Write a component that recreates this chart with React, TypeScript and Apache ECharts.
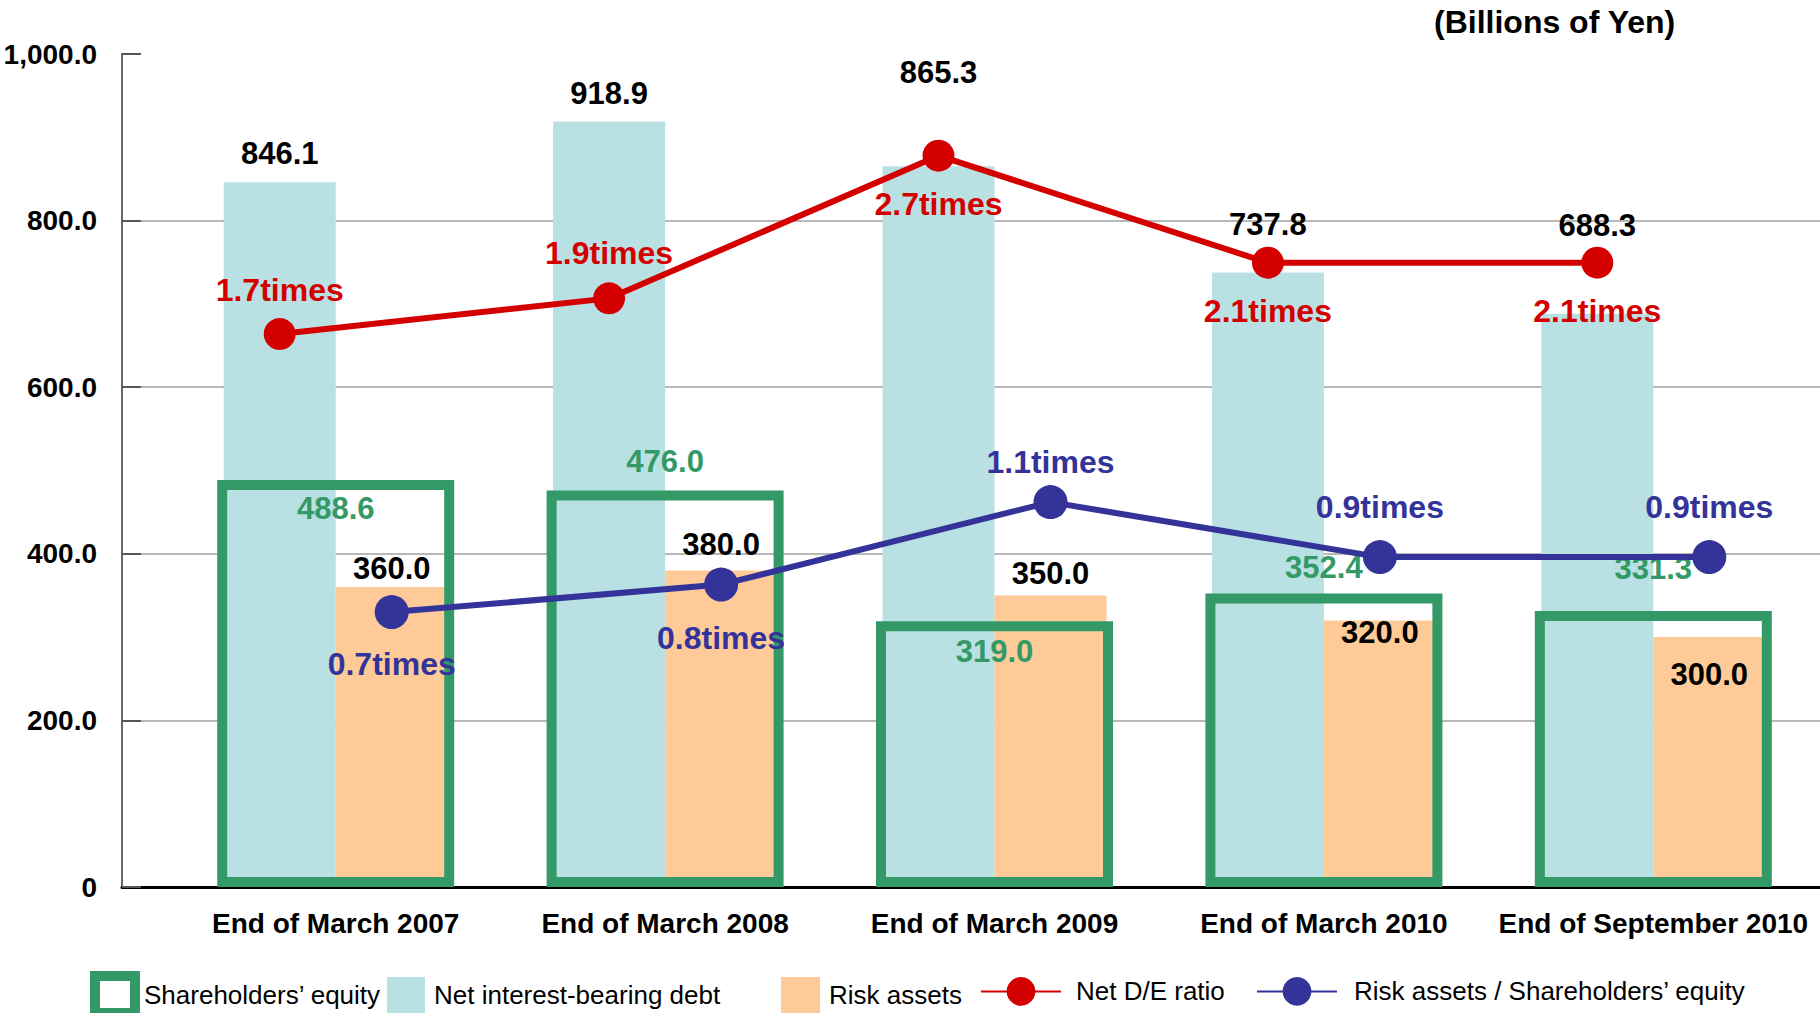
import { useEffect, useRef } from "react";
import * as echarts from "echarts";

// ---- data (billions of yen / times) ----
const categories = [
  "End of March 2007",
  "End of March 2008",
  "End of March 2009",
  "End of March 2010",
  "End of September 2010",
];
const netInterestBearingDebt = [846.1, 918.9, 865.3, 737.8, 688.3];
const riskAssets = [360.0, 380.0, 350.0, 320.0, 300.0];
const shareholdersEquity = [488.6, 476.0, 319.0, 352.4, 331.3];
const netDERatio = [1.7, 1.9, 2.7, 2.1, 2.1];
const riskToEquityRatio = [0.7, 0.8, 1.1, 0.9, 0.9];
const yTickValues = [0, 200, 400, 600, 800, 1000];

// ---- label placement tweaks (px), so the value tags clear the ratio lines ----
const debtLabelShift = [0, 0, -65, -19, -60];
const riskLabelShift = [0, -7, -3, 31, 56];
const equityLabelShift = [57, 0, 59, 3, -14];
const deLabelSide = ["top", "top", "bottom", "bottom", "bottom"];
const deLabelGap = [12, 13, 16, 16, 16];
const rrLabelSide = ["bottom", "bottom", "top", "top", "top"];
const rrLabelGap = [19, 20, 7, 17, 17];

const NAMES = {
  equity: "Shareholders\u2019 equity",
  debt: "Net interest-bearing debt",
  risk: "Risk assets",
  de: "Net D/E ratio",
  rr: "Risk assets / Shareholders\u2019 equity",
};

const TEAL = "#b9e0e3";
const PEACH = "#fecb98";
const GREEN = "#339966";
const RED = "#d40000";
const NAVY = "#333399";
const FONT = "'Liberation Sans', Arial, Helvetica, sans-serif";

const TOP = 54;
const BOTTOM = 126;
const PLOT_W = 1647;

const fmt1 = (v: number) => Number(v).toFixed(1);

function buildOption(): echarts.EChartsOption {
  const barLabel = {
    show: true,
    position: "top" as const,
    fontSize: 31,
    fontWeight: "bold" as const,
    fontFamily: FONT,
    formatter: (p: any) => fmt1(p.value),
  };
  const lineLabel = (color: string) => ({
    show: true,
    fontSize: 32,
    fontWeight: "bold" as const,
    fontFamily: FONT,
    color,
    formatter: (p: any) => `${fmt1(p.value)}times`,
  });

  const legendBase = {
    orient: "horizontal" as const,
    padding: 0,
    selectedMode: false,
    textStyle: { fontSize: 26, color: "#000", fontFamily: FONT },
  };

  const gridBase = { top: TOP, bottom: BOTTOM, outerBoundsMode: "none" };

  return {
    animation: false,
    backgroundColor: "#ffffff",
    textStyle: { fontFamily: FONT },
    title: {
      text: "(Billions of Yen)",
      left: 1434,
      top: 6,
      padding: 0,
      textStyle: { fontSize: 32, fontWeight: "bold", color: "#000", fontFamily: FONT },
    },
    legend: [
      {
        ...legendBase,
        left: 90,
        top: 971,
        itemWidth: 40,
        itemHeight: 37,
        icon: "rect",
        data: [NAMES.equity],
        itemStyle: { color: "#ffffff", borderColor: GREEN, borderWidth: 10 },
        textStyle: { ...legendBase.textStyle, padding: [0, 0, 0, 4] },
      },
      {
        ...legendBase,
        left: 387,
        top: 977,
        itemWidth: 38,
        itemHeight: 36,
        icon: "rect",
        data: [NAMES.debt],
        textStyle: { ...legendBase.textStyle, padding: [0, 0, 0, 4] },
      },
      {
        ...legendBase,
        left: 781,
        top: 977,
        itemWidth: 39,
        itemHeight: 36,
        icon: "rect",
        data: [NAMES.risk],
        textStyle: { ...legendBase.textStyle, padding: [0, 0, 0, 4] },
      },
      {
        ...legendBase,
        left: 980,
        top: 977,
        itemWidth: 80,
        itemHeight: 36,
        data: [NAMES.de],
        textStyle: { ...legendBase.textStyle, padding: [0, 0, 0, 10] },
      },
      {
        ...legendBase,
        left: 1256,
        top: 977,
        itemWidth: 80,
        itemHeight: 36,
        data: [NAMES.rr],
        textStyle: { ...legendBase.textStyle, padding: [0, 0, 0, 12] },
      },
    ],
    grid: [
      // axis frame: value axis, gridlines and baseline
      { ...gridBase, left: 122, right: 0 },
      // bars
      { ...gridBase, left: 171, width: PLOT_W },
      // D/E ratio line, centred on the debt bars
      { ...gridBase, left: 115, width: PLOT_W },
      // risk / equity line, centred on the risk-asset bars
      { ...gridBase, left: 227, width: PLOT_W },
    ],
    xAxis: [
      {
        gridIndex: 0,
        type: "value",
        min: 0,
        max: 1,
        axisLine: { show: true, lineStyle: { color: "#000", width: 3 } },
        axisTick: { show: false },
        axisLabel: { show: false },
        splitLine: { show: false },
      },
      {
        gridIndex: 1,
        type: "category",
        data: categories,
        axisLine: { show: false },
        axisTick: { show: false },
        axisLabel: {
          interval: 0,
          margin: 22,
          fontSize: 28,
          fontWeight: "bold",
          color: "#000",
          fontFamily: FONT,
        },
      },
      { gridIndex: 1, type: "category", data: categories, show: false },
      { gridIndex: 2, type: "category", data: categories, show: false },
      { gridIndex: 3, type: "category", data: categories, show: false },
    ],
    yAxis: [
      {
        gridIndex: 0,
        type: "value",
        min: yTickValues[0],
        max: yTickValues[yTickValues.length - 1],
        interval: yTickValues[1] - yTickValues[0],
        axisLine: { show: true, lineStyle: { color: "#666", width: 2 } },
        axisTick: { show: true, inside: true, length: 19, lineStyle: { color: "#555", width: 2 } },
        splitLine: {
          show: true,
          showMinLine: false,
          showMaxLine: false,
          lineStyle: { color: "#b8b8b8", width: 2 },
        },
        axisLabel: {
          margin: 25,
          fontSize: 28,
          fontWeight: "bold",
          color: "#000",
          fontFamily: FONT,
          formatter: (v: number) =>
            v === 0
              ? "0"
              : v.toLocaleString("en-US", { minimumFractionDigits: 1, maximumFractionDigits: 1 }),
        },
      },
      { gridIndex: 1, type: "value", min: 0, max: 1000, show: false },
      { gridIndex: 2, type: "value", min: -1.4, max: 3.27, show: false },
      { gridIndex: 3, type: "value", min: -0.3, max: 2.73, show: false },
    ],
    series: [
      {
        name: NAMES.debt,
        type: "bar",
        xAxisIndex: 1,
        yAxisIndex: 1,
        barWidth: 112,
        barGap: "0%",
        itemStyle: { color: TEAL },
        label: { ...barLabel, distance: 13, color: "#000" },
        data: netInterestBearingDebt.map((v, i) => ({
          value: v,
          label: { offset: [0, debtLabelShift[i]] },
        })),
      },
      {
        name: NAMES.risk,
        type: "bar",
        xAxisIndex: 1,
        yAxisIndex: 1,
        barWidth: 112,
        barGap: "0%",
        itemStyle: { color: PEACH },
        label: { ...barLabel, distance: 3, color: "#000" },
        data: riskAssets.map((v, i) => ({
          value: v,
          label: { offset: [0, riskLabelShift[i]] },
        })),
      },
      {
        name: NAMES.equity,
        type: "bar",
        xAxisIndex: 2,
        yAxisIndex: 1,
        barWidth: 237,
        itemStyle: { color: "rgba(255,255,255,0)", borderColor: GREEN, borderWidth: 10 },
        label: { ...barLabel, distance: 13, color: GREEN },
        data: shareholdersEquity.map((v, i) => ({
          value: v,
          label: { offset: [0, equityLabelShift[i]] },
        })),
      },
      {
        name: NAMES.de,
        type: "line",
        xAxisIndex: 3,
        yAxisIndex: 2,
        clip: false,
        symbol: "circle",
        symbolSize: 32,
        itemStyle: { color: RED },
        lineStyle: { color: RED, width: 6 },
        label: lineLabel(RED),
        data: netDERatio.map((v, i) => ({
          value: v,
          label: { position: deLabelSide[i] as any, distance: deLabelGap[i] },
        })),
      },
      {
        name: NAMES.rr,
        type: "line",
        xAxisIndex: 4,
        yAxisIndex: 3,
        clip: false,
        symbol: "circle",
        symbolSize: 34,
        itemStyle: { color: NAVY },
        lineStyle: { color: NAVY, width: 6 },
        label: lineLabel(NAVY),
        data: riskToEquityRatio.map((v, i) => ({
          value: v,
          label: { position: rrLabelSide[i] as any, distance: rrLabelGap[i] },
        })),
      },
    ],
  } as echarts.EChartsOption;
}

export default function App() {
  const ref = useRef<HTMLDivElement>(null);

  useEffect(() => {
    if (!ref.current) return;
    const chart = echarts.init(ref.current, undefined, { renderer: "svg" });
    chart.setOption(buildOption());
    return () => chart.dispose();
  }, []);

  return (
    <div
      ref={ref}
      style={{
        position: "fixed",
        left: 0,
        top: 0,
        width: 1820,
        height: 1013,
        background: "#ffffff",
      }}
    />
  );
}
